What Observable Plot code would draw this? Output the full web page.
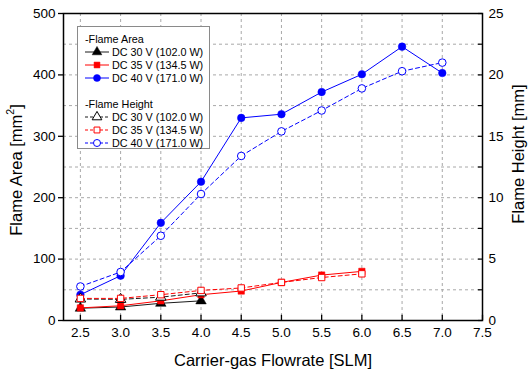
<!DOCTYPE html>
<html><head><meta charset="utf-8">
<script src="https://cdn.jsdelivr.net/npm/d3@7"></script>
<script src="https://cdn.jsdelivr.net/npm/@observablehq/plot@0.6"></script>
<style>
body{margin:0;background:#fff;}
#chart{width:529px;height:371px;}
svg{font-family:"Liberation Sans",Arial,sans-serif;}
</style>
</head><body><div id="chart"></div>
<script>
// ---- data ----
const flow = [2.5, 3.0, 3.5, 4.0, 4.5, 5.0, 5.5, 6.0, 6.5, 7.0];
const area30 = [20, 22, 28, 32];
const area35 = [20.5, 24, 32, 42, 48, 62, 74, 80];
const area40 = [42, 73, 159, 226, 330, 336, 372, 401, 446, 403];
const height30 = [1.75, 1.72, 1.9, 2.25];
const height35 = [1.8, 1.8, 2.1, 2.45, 2.65, 3.1, 3.5, 3.8];
const height40 = [2.77, 3.95, 6.9, 10.3, 13.4, 15.4, 17.1, 18.9, 20.3, 21.0];

const seriesLabels = ["DC 30 V (102.0 W)", "DC 35 V (134.5 W)", "DC 40 V (171.0 W)"];
const groupLabels = ["-Flame Area", "-Flame Height"];
const colors = ["#000000", "#ff0000", "#0000ff"];
const symbols = ["triangle", "square", "circle"];

const xTicks = [2.5, 3.0, 3.5, 4.0, 4.5, 5.0, 5.5, 6.0, 6.5, 7.0, 7.5];
const yTicks = [0, 100, 200, 300, 400, 500];
const yGrid = [50, 100, 150, 200, 250, 300, 350, 400, 450];
const y2Ticks = [0, 5, 10, 15, 20, 25];
const y2Minor = [2.5, 7.5, 12.5, 17.5, 22.5];
const K = 500 / 25; // area units per mm of height (right axis)

const areaSets = [area30, area35, area40];
const heightSets = [height30, height35, height40];
const areaRows = areaSets.map((vals, s) => vals.map((v, i) => ({x: flow[i], y: v, s})));
const heightRows = heightSets.map((vals, s) => vals.map((v, i) => ({x: flow[i], y: v * K, s})));

const dash = "4,3";
const lineW = [0.9, 1, 1];
const rSym = [3.9, 3.6, 3.8];

const marks = [
  Plot.ruleX(xTicks.slice(0, -1), {stroke: "#a8a8a8", strokeDasharray: "3,3"}),
  Plot.ruleY(yGrid, {stroke: "#a8a8a8", strokeDasharray: "3,3"})
];
areaRows.forEach((d, s) => {
  marks.push(Plot.line(d, {x: "x", y: "y", stroke: colors[s], strokeWidth: lineW[s]}));
  marks.push(Plot.dot(d, {x: "x", y: "y", symbol: () => symbols[s], r: rSym[s], fill: colors[s], stroke: colors[s], strokeWidth: 0.5}));
});
heightRows.forEach((d, s) => {
  marks.push(Plot.line(d, {x: "x", y: "y", stroke: colors[s], strokeWidth: lineW[s], strokeDasharray: dash}));
  marks.push(Plot.dot(d, {x: "x", y: "y", symbol: () => symbols[s], r: rSym[s], fill: "white", stroke: colors[s], strokeWidth: 1}));
});
marks.push(
  Plot.frame({stroke: "black", strokeWidth: 1.5}),
  Plot.axisX({ticks: xTicks, tickSize: 0, tickPadding: 7, tickFormat: d3.format(".1f"), fontSize: 13.5, label: null}),
  Plot.ruleX(xTicks, {y1: 0, y2: 8.5, stroke: "black", strokeWidth: 1.3}),
  Plot.axisY({ticks: yTicks, tickSize: 5, tickPadding: 3, fontSize: 13.5, label: null, strokeWidth: 1.3}),
  Plot.axisY({anchor: "right", ticks: y2Ticks.map(d => d * K), tickFormat: d => d / K, tickSize: 0, tickPadding: 6, fontSize: 13.5, label: null}),
  Plot.ruleY(y2Ticks.concat(y2Minor).map(d => d * K), {x1: 7.5 - 0.05, x2: 7.5, stroke: "black", strokeWidth: 1.2})
);

const chart = Plot.plot({
  width: 529, height: 371,
  marginLeft: 63, marginRight: 47, marginTop: 13, marginBottom: 51,
  x: {domain: [2.29, 7.5]},
  y: {domain: [0, 500]},
  style: {fontFamily: '"Liberation Sans", Arial, sans-serif', color: "black", background: "white"},
  marks
});
document.getElementById("chart").appendChild(chart);

// ---- titles & legend ----
const svg = d3.select(chart);
const FF = '"Liberation Sans", Arial, sans-serif';
svg.append("text").attr("x", 273).attr("y", 360).attr("text-anchor", "middle")
  .attr("dominant-baseline", "central").attr("font-size", 16.5).attr("font-family", FF).attr("fill", "black")
  .text("Carrier-gas Flowrate [SLM]");
const lt = svg.append("text").attr("transform", "translate(16,170) rotate(-90)").attr("text-anchor", "middle")
  .attr("dominant-baseline", "central").attr("font-size", 16.5).attr("font-family", FF).attr("fill", "black");
lt.append("tspan").text("Flame Area [mm");
lt.append("tspan").attr("font-size", 10.5).attr("dy", -6).text("2");
lt.append("tspan").attr("dy", 6).text("]");
svg.append("text").attr("transform", "translate(518,154) rotate(-90)").attr("text-anchor", "middle")
  .attr("dominant-baseline", "central").attr("font-size", 16.5).attr("font-family", FF).attr("fill", "black")
  .text("Flame Height [mm]");

const lg = svg.append("g").attr("font-family", FF).attr("font-size", 10.8).attr("fill", "black").attr("text-anchor", "start");
lg.append("rect").attr("x", 77.5).attr("y", 26.5).attr("width", 132).attr("height", 122)
  .attr("fill", "white").attr("stroke", "#8a8a8a").attr("stroke-width", 1);
const symType = {triangle: d3.symbolTriangle, square: d3.symbolSquare, circle: d3.symbolCircle};
const groupY = [39, 104];
groupLabels.forEach((g, gi) => {
  lg.append("text").attr("x", 85).attr("y", groupY[gi]).attr("dominant-baseline", "central").attr("text-anchor", "start").text(g);
  seriesLabels.forEach((lab, s) => {
    const y = groupY[gi] + 13 * (s + 1);
    lg.append("line").attr("x1", 85).attr("x2", 109).attr("y1", y).attr("y2", y)
      .attr("stroke", colors[s]).attr("stroke-width", lineW[s])
      .attr("stroke-dasharray", gi === 1 ? "3,2" : null);
    lg.append("path").attr("transform", `translate(97,${y})`)
      .attr("d", d3.symbol(symType[symbols[s]], Math.PI * rSym[s] * rSym[s] * 0.85)())
      .attr("fill", gi === 0 ? colors[s] : "white").attr("stroke", colors[s]).attr("stroke-width", gi === 0 ? 0.5 : 1);
    lg.append("text").attr("x", 112).attr("y", y).attr("dominant-baseline", "central").attr("text-anchor", "start").text(lab);
  });
});
</script>
</body></html>
